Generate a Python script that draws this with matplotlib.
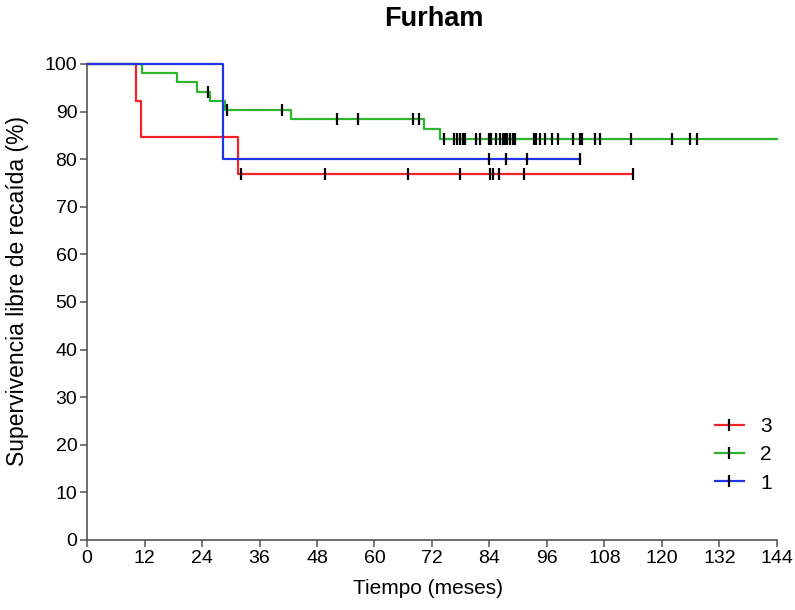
import numpy as np
import matplotlib
matplotlib.use("Agg")
import matplotlib.pyplot as plt

plt.rcParams['font.family'] = ['Liberation Sans', 'DejaVu Sans']

# ---- data ----
red_event_t = [10.2, 11.3, 31.5]
red_surv = [92.3, 84.6, 76.9]
red_censor_t = [32.1, 49.7, 67.0, 77.9, 84.1, 84.8, 86.0, 91.2, 114.0]

green_event_t = [11.4, 18.7, 22.9, 25.7, 28.8, 42.5, 70.4, 73.7]
green_surv = [98.1, 96.2, 94.2, 92.3, 90.4, 88.4, 86.3, 84.2]
green_censor_t = [25.3, 29.2, 40.6, 52.1, 56.6, 68.1, 69.2,
                  74.4, 76.5, 77.3, 77.9, 78.4, 78.8, 81.2, 82.0, 83.8, 84.3,
                  85.4, 86.2, 86.8, 87.3, 87.7, 88.3, 88.9, 89.4, 93.2, 93.7,
                  94.6, 95.6, 97.0, 98.2, 101.5, 102.9, 103.3, 106.1, 107.1,
                  113.5, 122.1, 125.8, 127.3]
green_end = 144.0

blue_event_t = [28.3]
blue_surv = [80.0]
blue_censor_t = [83.8, 87.4, 91.9, 102.9]

series = [
    ("3", "#F5222A", red_event_t, red_surv, red_censor_t, 114.0),
    ("2", "#2DB52D", green_event_t, green_surv, green_censor_t, green_end),
    ("1", "#2035E8", blue_event_t, blue_surv, blue_censor_t, 102.9),
]

xticks = list(range(0, 145, 12))
yticks = list(range(0, 101, 10))

W, H = 795, 610
fig = plt.figure(figsize=(W/100, H/100), dpi=100)
ax = fig.add_axes([87/W, 1 - 540/H, 690/W, 476/H])

def surv_at(t, ev_t, sv):
    s = 100.0
    for et, v in zip(ev_t, sv):
        if et <= t:
            s = v
    return s

for label, color, ev_t, sv, cens, end in series:
    xs = [0.0] + list(ev_t) + [end]
    ys = [100.0] + list(sv) + [sv[-1]]
    ax.step(xs, ys, where='post', color=color, lw=1.6, clip_on=False,
            zorder=2)
    cy = [surv_at(t, ev_t, sv) for t in cens]
    ax.plot(cens, cy, ls='none', marker='|', color='black', ms=9, mew=1.6,
            clip_on=False, zorder=3)
    ax.plot([], [], color=color, lw=1.6, marker='|', mec='black', ms=9,
            mew=1.6, label=label)

ax.set_xlim(0, 144)
ax.set_ylim(0, 100)
ax.set_xticks(xticks)
ax.set_yticks(yticks)
for s in ['top', 'right']:
    ax.spines[s].set_visible(False)
for s in ['left', 'bottom']:
    ax.spines[s].set_color('#555555')
    ax.spines[s].set_linewidth(1.2)
ax.tick_params(direction='out', length=5, width=1.1, color='#555555',
               labelsize=14, pad=2)

ax.set_xlabel("Tiempo (meses)", fontsize=15)
ax.xaxis.set_label_coords(428/W, 1 - 588/H, transform=fig.transFigure)
ax.set_ylabel("Supervivencia libre de recaída (%)", fontsize=16.5)
ax.yaxis.set_label_coords(18/W, 1 - 291/H, transform=fig.transFigure)
ax.yaxis.label.set_va('center')
ax.xaxis.label.set_va('center')
fig.text(434/W, 1 - 19/H, "Furham", ha='center', va='center',
         fontsize=19.5, fontweight='bold')

leg = ax.legend(loc='lower right', bbox_to_anchor=(1.02, 0.06), frameon=False,
                fontsize=15, handlelength=1.4, labelspacing=0.45,
                handletextpad=0.8)

fig.savefig("out.png", dpi=100)
